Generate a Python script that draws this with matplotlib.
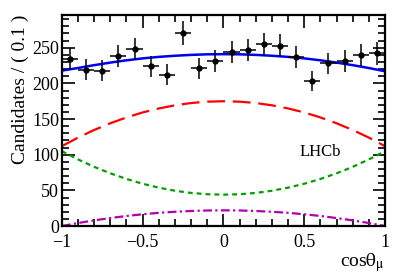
import numpy as np
import matplotlib
matplotlib.use("Agg")
import matplotlib.pyplot as plt
from matplotlib.ticker import MultipleLocator

plt.rcParams['font.family'] = ['Liberation Serif', 'DejaVu Serif']
plt.rcParams['mathtext.fontset'] = 'stix'

# binned data (bin centres, counts)
bin_centres = [-0.95, -0.85, -0.75, -0.65, -0.55, -0.45, -0.35, -0.25, -0.15, -0.05,
               0.05, 0.15, 0.25, 0.35, 0.45, 0.55, 0.65, 0.75, 0.85, 0.95]
counts = [234, 219, 218, 238, 248, 224, 212, 271, 221, 231,
          244, 247, 255, 253, 237, 203, 228, 231, 240, 242]
bin_halfwidth = 0.05

# fit components sampled on a grid
curve_x = [-1.0, -0.9, -0.8, -0.7, -0.6, -0.5, -0.4, -0.3, -0.2, -0.1, 0.0,
           0.1, 0.2, 0.3, 0.4, 0.5, 0.6, 0.7, 0.8, 0.9, 1.0]
total = [218, 221.6, 225.6, 229.2, 232.4, 235.1, 237.2, 238.8, 240.0, 240.8, 241,
         240.8, 240.0, 238.8, 237.2, 235.1, 232.4, 229.2, 225.6, 221.6, 217]
comp_red = [112, 124, 134.7, 144.1, 152.3, 159.3, 164.9, 169.3, 172.5, 174.4, 175,
            174.4, 172.5, 169.3, 164.9, 159.3, 152.3, 144.1, 134.7, 124, 112]
comp_green = [105, 93.4, 83, 73.9, 66, 59.3, 53.8, 49.5, 46.4, 44.6, 44,
              44.6, 46.4, 49.5, 53.8, 59.3, 66, 73.9, 83, 93.4, 105]
comp_magenta = [0, 4.2, 7.9, 11.2, 14.1, 16.5, 18.5, 20, 21.1, 21.8, 22,
                21.8, 21.1, 20, 18.5, 16.5, 14.1, 11.2, 7.9, 4.2, 0]

fig = plt.figure(figsize=(4.07, 2.77), dpi=100)
ax = fig.add_axes([0.152, 0.184, 0.794, 0.762])

ax.plot(curve_x, comp_red, color='red', lw=1.6, dashes=(8, 3.5))
ax.plot(curve_x, comp_green, color='#00a000', lw=1.6, dashes=(2.2, 1.8))
ax.plot(curve_x, comp_magenta, color='#b000b0', lw=1.6, dashes=(4, 1.5, 1, 1.5))
ax.plot(curve_x, total, color='#0000ee', lw=1.8)

ax.errorbar(bin_centres, counts, xerr=bin_halfwidth, yerr=np.sqrt(counts),
            fmt='o', color='black', ms=3.5, elinewidth=1.1, capsize=0)

ax.set_xlim(-1, 1)
ax.set_ylim(0, 296)
ax.xaxis.set_major_locator(MultipleLocator(0.5))
ax.xaxis.set_minor_locator(MultipleLocator(0.1))
ax.yaxis.set_major_locator(MultipleLocator(50))
ax.yaxis.set_minor_locator(MultipleLocator(10))
ax.tick_params(which='both', direction='in', top=True, right=True, labelsize=13, width=1.2)
ax.tick_params(which='major', length=9)
ax.tick_params(which='minor', length=5)
ax.tick_params(axis='x', pad=6)
ax.tick_params(axis='y', pad=2)
for s in ax.spines.values():
    s.set_linewidth(1.6)

ax.set_xticks([-1, -0.5, 0, 0.5, 1])
ax.set_xticklabels(['\u22121', '\u22120.5', '0', '0.5', '1'])

ax.set_ylabel('Candidates / ( 0.1 )', fontsize=14, loc='top', labelpad=2)
ax.set_xlabel(r'cos$\mathrm{\theta}_{\mathrm{\mu}}$', fontsize=14, loc='right', labelpad=0)
ax.text(0.47, 98, 'LHCb', fontsize=12)

fig.savefig('out.png', dpi=100)
